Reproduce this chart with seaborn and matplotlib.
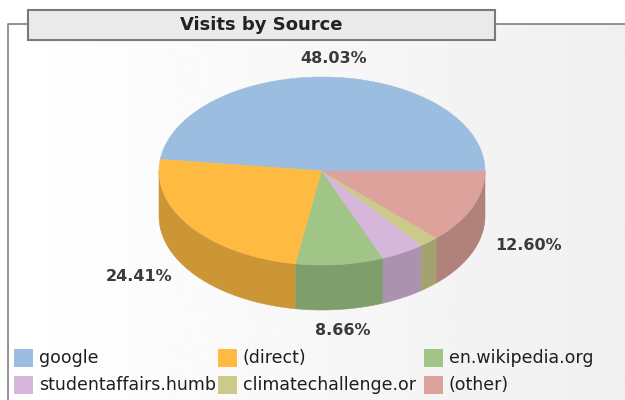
import numpy as np
import matplotlib
matplotlib.use("Agg")
import matplotlib.pyplot as plt
import seaborn as sns
from matplotlib.patches import Polygon, Rectangle
from matplotlib.transforms import Bbox

# data
sources = ["google", "(direct)", "en.wikipedia.org",
           "studentaffairs.humboldt.edu", "climatechallenge.org", "(other)"]
shares = [48.03, 24.41, 8.66, 4.35, 1.95, 12.60]
hex_colors = ["#9bbde0", "#ffba42", "#a0c586", "#d6b6db", "#ccca8a", "#dda29b"]
title = "Visits by Source"

sns.set_style("white")
plt.rcParams["font.family"] = ["DejaVu Sans"]
palette = sns.color_palette(hex_colors)

fig = plt.figure(figsize=(6.25, 4), dpi=100)
ax = fig.add_axes([0, 0, 1, 1])
ax.set_xlim(0, 625)
ax.set_ylim(400, 0)
ax.axis("off")

# panel background (soft gradient) and frame
grad = np.linspace(1.0, 0.94, 256).reshape(1, -1)
ax.imshow(grad, cmap="gray", vmin=0, vmax=1, extent=[8, 625, 400, 24],
          aspect="auto", zorder=0)
ax.plot([8, 8, 625], [400, 24, 24], color="#808080", lw=1.2, zorder=1)
ax.add_patch(Rectangle((28, 10), 467, 30, facecolor="#eaeaea",
                       edgecolor="#7a7a7a", lw=1.5, zorder=2))
ax.text(261, 25, title, ha="center", va="center", fontsize=13,
        fontweight="bold", color="#222222", zorder=3)

# 3d pie
cx, cy, rx, ry, depth = 322, 171, 163, 94, 45
vals = np.array(shares)
angles = np.concatenate([[0], np.cumsum(vals / vals.sum() * 360)])


def arc(a0, a1, n=80):
    t = np.radians(np.linspace(a0, a1, n))
    return np.column_stack([cx + rx * np.cos(t), cy - ry * np.sin(t)])


for i in range(len(vals)):
    a0, a1 = angles[i], angles[i + 1]
    s0, s1 = max(a0, 180), min(a1, 360)
    if s1 > s0:
        top = arc(s0, s1)
        bot = top[::-1] + [0, depth]
        side_col = tuple(c * 0.8 for c in palette[i])
        ax.add_patch(Polygon(np.vstack([top, bot]), closed=True,
                             facecolor=side_col, edgecolor=side_col,
                             lw=0.4, zorder=4))

for i in range(len(vals)):
    a0, a1 = angles[i], angles[i + 1]
    pts = np.vstack([[cx, cy], arc(a0, a1)])
    ax.add_patch(Polygon(pts, closed=True, facecolor=palette[i],
                         edgecolor=palette[i], lw=0.4, zorder=5))

# percentage labels (only the larger slices)
for i in range(len(vals)):
    if vals[i] < 5:
        continue
    m = np.radians((angles[i] + angles[i + 1]) / 2)
    lx = cx + 1.15 * rx * np.cos(m)
    ly = cy - 1.2 * ry * np.sin(m)
    if np.sin(m) < 0:
        ly += depth * np.sqrt(-np.sin(m)) + 3
    if np.cos(m) < -0.3:
        ha = "right"
    elif np.cos(m) > 0.3:
        ha = "left"
    else:
        ha = "center"
    ax.text(lx, ly, f"{vals[i]:.2f}%", ha=ha, va="center", fontsize=11.5,
            fontweight="bold", color="#3a3a3a", zorder=6)

# legend, 3 columns x 2 rows; names longer than the column are cut off
col_x = [14, 218, 424]
row_y = [358, 385]
text_w = 176
renderer = fig.canvas.get_renderer()
for i, name in enumerate(sources):
    c, r = i % 3, i // 3
    x, y = col_x[c], row_y[r]
    ax.add_patch(Rectangle((x, y - 9), 19, 18, facecolor=palette[i],
                           edgecolor="none", zorder=6))
    right = x + 25 + text_w
    t = ax.text(x + 25, y, name, ha="left", va="center", fontsize=12.5,
                color="#1e1e1e", zorder=6)
    shown = name
    while t.get_window_extent(renderer).x1 > right + 6 and len(shown) > 1:
        shown = shown[:-1]
        t.set_text(shown)
    t.set_clip_box(Bbox.from_extents(x, 0, right, 400))
    t.set_clip_on(True)

fig.savefig("out.png", dpi=100)
